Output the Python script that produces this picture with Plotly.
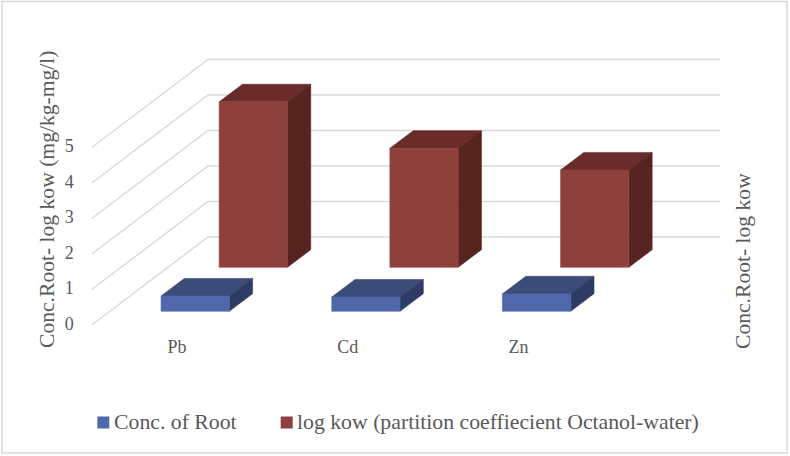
import plotly.graph_objects as go

categories = ["Pb", "Cd", "Zn"]
conc_root = [0.43, 0.40, 0.49]
log_kow = [4.66, 3.35, 2.74]
y_ticks = [0, 1, 2, 3, 4, 5]
legend_names = ["Conc. of Root", "log kow (partition coeffiecient Octanol-water)"]

W, H = 790, 456
PX_CAT, PX_VAL = 170.7, 35.5      # pixels per category / per value unit
X0, Y0 = 91.7, 325.0              # pixel of the front-left floor corner
DEPTH_X, DEPTH_Y = 116.3 / PX_CAT, 88.0 / PX_VAL  # oblique shift of full depth
BAR_W = 0.4
GREY = "#595959"
FONT = "Liberation Serif"
BLUE, RED = "#5068AB", "#8E403D"


def proj(cat, val, depth):
    return cat + depth * DEPTH_X, val + depth * DEPTH_Y


def px(x, y):
    """Pixel position on the canvas to axis units (for layout items only)."""
    return (x - X0) / PX_CAT, (Y0 - y) / PX_VAL


def poly(points, color):
    xs, ys = zip(*[proj(*p) for p in points + points[:1]])
    return go.Scatter(x=xs, y=ys, mode="lines", fill="toself", fillcolor=color,
                      line=dict(color=color, width=0.6), showlegend=False,
                      hoverinfo="skip")


def bar(i, val, d0, d1, front, top, side):
    a, b = i + 0.5 - BAR_W / 2, i + 0.5 + BAR_W / 2
    return [
        poly([(a, val, d0), (b, val, d0), (b, val, d1), (a, val, d1)], top),
        poly([(b, 0, d0), (b, 0, d1), (b, val, d1), (b, val, d0)], side),
        poly([(a, 0, d0), (b, 0, d0), (b, val, d0), (a, val, d0)], front),
    ]


fig = go.Figure()

for t in y_ticks:
    xs, ys = zip(proj(0, t, 0), proj(0, t, 1), proj(len(categories), t, 1))
    fig.add_trace(go.Scatter(x=xs, y=ys, mode="lines", showlegend=False, hoverinfo="skip",
                             line=dict(color="#D9D9D9", width=1.4)))

for i, v in enumerate(log_kow):
    for tr in bar(i, v, 0.656, 0.856, RED, "#6A2C2A", "#58241F"):
        fig.add_trace(tr)
for i, v in enumerate(conc_root):
    for tr in bar(i, v, 0.156, 0.356, BLUE, "#3C4C78", "#2E3C65"):
        fig.add_trace(tr)

fig.add_trace(go.Scatter(x=[-22.5 / PX_CAT] * len(y_ticks), y=y_ticks, text=[str(t) for t in y_ticks],
                         mode="text", showlegend=False, hoverinfo="skip",
                         textfont=dict(family=FONT, size=18, color=GREY)))
fig.add_trace(go.Scatter(x=[i + 0.5 for i in range(len(categories))],
                         y=[-23.5 / PX_VAL] * len(categories), text=categories,
                         mode="text", showlegend=False, hoverinfo="skip",
                         textfont=dict(family=FONT, size=18, color=GREY)))

# Legend keys and labels
for name, color, mx in zip(legend_names, [BLUE, RED], [103.3, 286.7]):
    mxd, myd = px(mx, 422.5)
    fig.add_trace(go.Scatter(x=[mxd], y=[myd], mode="markers", name=name, showlegend=False,
                             hoverinfo="name", marker=dict(symbol="square", size=12, color=color)))

ann = [
    dict(text="Conc.Root- log kow (mg/kg-mg/l)", x=47 / W, y=1 - 199 / H, textangle=-90,
         xanchor="center", yanchor="middle", font=dict(family=FONT, size=21.6, color=GREY)),
    dict(text="Conc.Root- log kow", x=743 / W, y=1 - 261 / H, textangle=-90,
         xanchor="center", yanchor="middle", font=dict(family=FONT, size=21.6, color=GREY)),
]
for name, tx in zip(legend_names, [114, 296.7]):
    ann.append(dict(text=name, x=tx / W, y=1 - 422 / H, xanchor="left", yanchor="middle",
                    font=dict(family=FONT, size=21.75, color=GREY)))
for a in ann:
    a.update(xref="paper", yref="paper", showarrow=False, borderpad=0, borderwidth=0)

fig.update_layout(
    width=W, height=H, margin=dict(l=0, r=0, t=0, b=0),
    paper_bgcolor="white", plot_bgcolor="white", showlegend=False,
    xaxis=dict(visible=False, range=[-X0 / PX_CAT, (W - X0) / PX_CAT], fixedrange=True),
    yaxis=dict(visible=False, range=[(Y0 - H) / PX_VAL, Y0 / PX_VAL], fixedrange=True),
    font=dict(family=FONT),
    annotations=ann,
    shapes=[dict(type="rect", xref="paper", yref="paper", x0=2 / W, x1=787 / W, y0=1 - 453 / H, y1=1 - 1.5 / H,
                 line=dict(color="#D9D9D9", width=1.5))],
)

fig.write_html("out.html", config={"displayModeBar": False},
               post_script="document.body.style.margin='0';document.documentElement.style.overflow='hidden';")
